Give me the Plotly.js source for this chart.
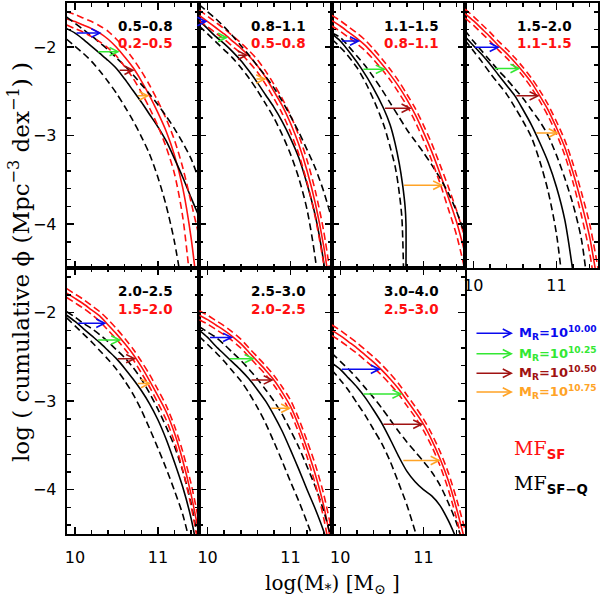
<!DOCTYPE html>
<html>
<head>
<meta charset="utf-8">
<script src="https://cdn.plot.ly/plotly-3.0.1.min.js"></script>
<style>body{margin:0;background:#fff}</style>
</head>
<body>
<div id="mf_chart" style="width:600px;height:600px"></div>
<script>
// log stellar mass grid the curves were read at
var log_mass = [9.9, 10.0, 10.1, 10.2, 10.3, 10.4, 10.5, 10.6, 10.7, 10.8, 10.9, 11.0, 11.1, 11.2, 11.3, 11.4, 11.5]

// redshift bins, black = SF-Q, red = SF
var z_sfq = ['0.5–0.8', '0.8–1.1', '1.1–1.5', '1.5–2.0', '2.0–2.5', '2.5–3.0', '3.0–4.0']
var z_sf = ['0.2–0.5', '0.5–0.8', '0.8–1.1', '1.1–1.5', '1.5–2.0', '2.0–2.5', '2.5–3.0']

// panel 1
var sfq_mid_1 = [-1.79,-1.84,-1.91,-1.99,-2.07,-2.15,-2.24,-2.36,-2.49,-2.62,-2.76,-2.90,-3.06,-3.26,-3.47,-3.70,-3.92]
var sfq_hi_1 = [-1.66,-1.73,-1.80,-1.87,-1.95,-2.03,-2.12,-2.21,-2.31,-2.42,-2.53,-2.65,-2.78,-2.92,-3.08,-3.26,-3.51]
var sfq_lo_1 = [-1.91,-1.99,-2.07,-2.16,-2.27,-2.39,-2.52,-2.67,-2.83,-3.01,-3.21,-3.47,-3.79,-4.20,-4.75]
var sf_mid_1 = [-1.68,-1.71,-1.75,-1.79,-1.84,-1.91,-2.00,-2.11,-2.23,-2.38,-2.55,-2.74,-2.95,-3.22,-3.59,-4.15,-4.95]
var sf_hi_1 = [-1.60,-1.63,-1.67,-1.71,-1.76,-1.82,-1.91,-2.01,-2.13,-2.27,-2.43,-2.61,-2.81,-3.05,-3.36,-3.75,-4.15]
var sf_lo_1 = [-1.75,-1.79,-1.83,-1.88,-1.94,-2.01,-2.10,-2.22,-2.35,-2.51,-2.69,-2.89,-3.13,-3.43,-3.92,-4.75]

// panel 2
var sfq_mid_2 = [-1.70,-1.79,-1.88,-1.96,-2.05,-2.15,-2.27,-2.40,-2.54,-2.68,-2.84,-3.03,-3.25,-3.55,-3.91,-4.43,-5.2]
var sfq_hi_2 = [-1.52,-1.60,-1.68,-1.77,-1.87,-1.98,-2.09,-2.21,-2.33,-2.46,-2.61,-2.78,-2.96,-3.16,-3.37,-3.63,-3.95]
var sfq_lo_2 = [-1.76,-1.85,-1.94,-2.03,-2.12,-2.23,-2.35,-2.49,-2.64,-2.80,-2.99,-3.21,-3.48,-3.84,-4.40,-5.3]
var sf_mid_2 = [-1.64,-1.71,-1.78,-1.85,-1.93,-2.01,-2.10,-2.21,-2.34,-2.50,-2.66,-2.86,-3.10,-3.40,-3.77,-4.25,-4.9]
var sf_hi_2 = [-1.58,-1.65,-1.72,-1.79,-1.87,-1.95,-2.04,-2.14,-2.27,-2.42,-2.58,-2.77,-3.00,-3.28,-3.63,-4.08,-4.7]
var sf_lo_2 = [-1.70,-1.77,-1.84,-1.91,-1.99,-2.07,-2.17,-2.28,-2.42,-2.58,-2.75,-2.96,-3.21,-3.53,-3.93,-4.45,-5.1]

// panel 3 (the SF-Q central and low curves drop almost vertically, so own masses)
var sfq_mid_3_mass = [9.9, 10.0, 10.13, 10.26, 10.39, 10.52, 10.6, 10.66, 10.71, 10.75, 10.78, 10.79, 10.79]
var sfq_mid_3 = [-1.85,-1.93,-2.08,-2.25,-2.45,-2.69,-2.88,-3.09,-3.32,-3.56,-3.81,-4.0,-4.5]
var sfq_lo_3_mass = [9.9, 10.05, 10.2, 10.32, 10.44, 10.53, 10.6, 10.66, 10.7, 10.74, 10.76]
var sfq_lo_3 = [-1.91,-2.05,-2.23,-2.43,-2.68,-2.90,-3.13,-3.35,-3.58,-3.92,-4.5]
var sfq_hi_3 = [-1.84,-1.89,-1.99,-2.10,-2.21,-2.34,-2.48,-2.63,-2.78,-2.93,-3.06,-3.19,-3.33,-3.48,-3.65,-3.86,-4.12]
var sf_mid_3 = [-1.70,-1.76,-1.83,-1.90,-1.98,-2.08,-2.19,-2.31,-2.44,-2.59,-2.76,-2.96,-3.18,-3.43,-3.70,-3.98,-4.33]
var sf_hi_3 = [-1.64,-1.70,-1.77,-1.84,-1.92,-2.02,-2.13,-2.25,-2.38,-2.53,-2.69,-2.88,-3.09,-3.33,-3.58,-3.85,-4.16]
var sf_lo_3 = [-1.76,-1.82,-1.89,-1.96,-2.04,-2.14,-2.25,-2.37,-2.51,-2.66,-2.84,-3.05,-3.28,-3.54,-3.83,-4.13,-4.52]

// panel 4
var sfq_mid_4 = [-1.88,-1.98,-2.08,-2.19,-2.31,-2.43,-2.55,-2.71,-2.88,-3.08,-3.30,-3.58,-3.95,-4.55]
var sfq_hi_4 = [-1.81,-1.93,-2.04,-2.15,-2.26,-2.36,-2.47,-2.58,-2.71,-2.84,-3.00,-3.22,-3.48,-3.78,-4.17,-4.9]
var sfq_lo_4 = [-1.92,-2.04,-2.16,-2.29,-2.41,-2.53,-2.68,-2.84,-3.02,-3.29,-3.63,-4.11,-4.9]
var sf_mid_4 = [-1.62,-1.70,-1.79,-1.88,-1.98,-2.07,-2.17,-2.28,-2.40,-2.55,-2.71,-2.91,-3.13,-3.42,-3.76,-4.15,-4.70]
var sf_hi_4 = [-1.57,-1.65,-1.74,-1.83,-1.93,-2.02,-2.12,-2.23,-2.35,-2.49,-2.65,-2.84,-3.05,-3.32,-3.64,-4.00,-4.50]
var sf_lo_4 = [-1.67,-1.75,-1.84,-1.93,-2.03,-2.12,-2.22,-2.33,-2.46,-2.61,-2.78,-2.98,-3.22,-3.53,-3.90,-4.33,-4.95]

// panel 5
var sfq_mid_5 = [-2.03,-2.10,-2.18,-2.26,-2.34,-2.43,-2.52,-2.63,-2.75,-2.88,-3.03,-3.21,-3.43,-3.69,-3.97,-4.32,-4.80]
var sfq_hi_5 = [-1.99,-2.05,-2.12,-2.18,-2.25,-2.33,-2.42,-2.51,-2.62,-2.75,-2.91,-3.09,-3.29,-3.51,-3.79,-4.15,-4.65]
var sfq_lo_5 = [-2.06,-2.15,-2.24,-2.33,-2.43,-2.53,-2.64,-2.77,-2.92,-3.10,-3.31,-3.53,-3.76,-4.01,-4.28,-4.65]
var sf_mid_5 = [-1.78,-1.84,-1.90,-1.97,-2.04,-2.14,-2.24,-2.35,-2.47,-2.61,-2.77,-2.94,-3.12,-3.36,-3.67,-4.05,-4.52]
var sf_hi_5 = [-1.73,-1.79,-1.85,-1.92,-1.99,-2.08,-2.18,-2.29,-2.41,-2.55,-2.70,-2.87,-3.05,-3.28,-3.57,-3.93,-4.38]
var sf_lo_5 = [-1.83,-1.89,-1.95,-2.02,-2.10,-2.20,-2.30,-2.41,-2.53,-2.68,-2.84,-3.02,-3.21,-3.46,-3.78,-4.18,-4.68]

// panel 6
var sfq_mid_6 = [-2.20,-2.28,-2.38,-2.47,-2.56,-2.65,-2.75,-2.87,-3.00,-3.16,-3.34,-3.55,-3.77,-4.00,-4.22,-4.47,-4.8]
var sfq_hi_6 = [-2.16,-2.22,-2.28,-2.36,-2.45,-2.54,-2.64,-2.75,-2.87,-3.00,-3.15,-3.33,-3.52,-3.74,-3.97,-4.24,-4.58]
var sfq_lo_6 = [-2.27,-2.36,-2.45,-2.55,-2.66,-2.77,-2.91,-3.07,-3.25,-3.46,-3.68,-3.91,-4.13,-4.37,-4.62]
var sf_mid_6 = [-2.03,-2.08,-2.14,-2.20,-2.27,-2.35,-2.45,-2.55,-2.65,-2.76,-2.90,-3.06,-3.28,-3.54,-3.83,-4.18,-4.65]
var sf_hi_6 = [-1.98,-2.03,-2.09,-2.15,-2.22,-2.30,-2.40,-2.50,-2.60,-2.71,-2.84,-2.99,-3.20,-3.45,-3.72,-4.05,-4.48]
var sf_lo_6 = [-2.08,-2.13,-2.19,-2.25,-2.32,-2.40,-2.50,-2.60,-2.70,-2.82,-2.96,-3.13,-3.36,-3.63,-3.94,-4.32,-4.82]

// panel 7
var sfq_mid_7 = [-2.57,-2.64,-2.74,-2.84,-2.96,-3.10,-3.25,-3.43,-3.62,-3.79,-3.91,-4.00,-4.07,-4.18,-4.35,-4.56]
var sfq_hi_7 = [-2.46,-2.55,-2.64,-2.74,-2.85,-2.96,-3.08,-3.21,-3.34,-3.46,-3.57,-3.68,-3.80,-3.95,-4.15,-4.38,-4.7]
var sfq_lo_7 = [-2.65,-2.76,-2.88,-3.02,-3.16,-3.32,-3.48,-3.68,-3.92,-4.17,-4.47,-4.8]
var sf_mid_7 = [-2.20,-2.26,-2.33,-2.40,-2.48,-2.56,-2.65,-2.75,-2.86,-2.99,-3.12,-3.26,-3.44,-3.65,-3.90,-4.22,-4.58]
var sf_hi_7 = [-2.14,-2.20,-2.27,-2.34,-2.42,-2.50,-2.59,-2.69,-2.80,-2.93,-3.06,-3.20,-3.37,-3.57,-3.81,-4.11,-4.45]
var sf_lo_7 = [-2.26,-2.32,-2.39,-2.46,-2.54,-2.62,-2.71,-2.81,-2.92,-3.05,-3.18,-3.33,-3.51,-3.73,-4.00,-4.33,-4.72]

// arrows, one row per panel, columns M_R = 10.00, 10.25, 10.50, 10.75
var mr_labels = ['10.00', '10.25', '10.50', '10.75']
var arrow_phi = [
    [-1.84,-2.05,-2.26,-2.55],
    [-1.71,-1.89,-2.09,-2.36],
    [-1.93,-2.25,-2.69,-3.56],
    [-2.00,-2.24,-2.55,-2.97],
    [-2.12,-2.31,-2.52,-2.80],
    [-2.28,-2.52,-2.76,-3.08],
    [-2.64,-2.92,-3.26,-3.67]]
var arrow_from = [
    [10.00,10.26,10.52,10.74],
    [9.90,10.11,10.35,10.57],
    [10.00,10.26,10.52,10.75],
    [10.00,10.24,10.50,10.74],
    [10.02,10.26,10.50,10.74],
    [10.01,10.25,10.51,10.75],
    [10.00,10.26,10.50,10.74]]
var arrow_to = [
    [10.32,10.54,10.72,10.90],
    [10.00,10.25,10.49,10.71],
    [10.24,10.55,10.86,11.24],
    [10.32,10.57,10.80,11.03],
    [10.38,10.56,10.74,10.92],
    [10.31,10.57,10.80,11.01],
    [10.49,10.75,11.00,11.21]]

var panels = [
    {sfq: [sfq_mid_1, sfq_hi_1, sfq_lo_1], sf: [sf_mid_1, sf_hi_1, sf_lo_1]},
    {sfq: [sfq_mid_2, sfq_hi_2, sfq_lo_2], sf: [sf_mid_2, sf_hi_2, sf_lo_2]},
    {sfq: [sfq_mid_3, sfq_hi_3, sfq_lo_3], sf: [sf_mid_3, sf_hi_3, sf_lo_3],
     sfq_mass: [sfq_mid_3_mass, log_mass, sfq_lo_3_mass]},
    {sfq: [sfq_mid_4, sfq_hi_4, sfq_lo_4], sf: [sf_mid_4, sf_hi_4, sf_lo_4]},
    {sfq: [sfq_mid_5, sfq_hi_5, sfq_lo_5], sf: [sf_mid_5, sf_hi_5, sf_lo_5]},
    {sfq: [sfq_mid_6, sfq_hi_6, sfq_lo_6], sf: [sf_mid_6, sf_hi_6, sf_lo_6]},
    {sfq: [sfq_mid_7, sfq_hi_7, sfq_lo_7], sf: [sf_mid_7, sf_hi_7, sf_lo_7]},
]

var arrow_colors = ['#0a0aee', '#33e833', '#a01212', '#ffa326']
var red = '#ff1010'

var cols = [[0.1112, 0.3322], [0.3322, 0.5533], [0.5533, 0.7750], [0.7750, 0.9967]]
var rows = [[0.5528, 0.995], [0.11, 0.5528]]

function suffix(n) {
    return n == 1 ? '' : String(n)
}

var data = [], annotations = []
var layout = {
    width: 600,
    height: 600,
    margin: {l: 0, r: 0, t: 0, b: 0},
    paper_bgcolor: 'white',
    plot_bgcolor: 'white',
    showlegend: false,
}

for (var p = 0; p < panels.length; p++) {
    var n = p + 1, s = suffix(n)
    var col = p < 4 ? p : p - 4
    var row = p < 4 ? 0 : 1
    var dashes = ['solid', '7px,4px', '7px,4px']

    for (var k = 0; k < 3; k++) {
        data.push({
            x: log_mass, y: panels[p].sf[k], xaxis: 'x' + s, yaxis: 'y' + s,
            mode: 'lines', hoverinfo: 'skip',
            line: {color: red, width: 1.6, dash: dashes[k], shape: 'spline', smoothing: 0.8},
        })
        var sfq_x = panels[p].sfq_mass ? panels[p].sfq_mass[k] : log_mass
        data.push({
            x: sfq_x, y: panels[p].sfq[k], xaxis: 'x' + s, yaxis: 'y' + s,
            mode: 'lines', hoverinfo: 'skip',
            line: {color: 'black', width: 1.6, dash: dashes[k], shape: 'spline', smoothing: 0.8},
        })
    }

    var tick_font = {family: 'DejaVu Sans', size: 16, color: 'black'}
    layout['xaxis' + s] = {
        domain: cols[col], anchor: 'y' + s,
        range: [9.9, 11.5], tick0: 10, dtick: 1,
        ticks: 'inside', ticklen: 7, tickwidth: 1.5, tickcolor: 'black',
        minor: {tick0: 10, dtick: 0.2, ticks: 'inside', ticklen: 4, tickwidth: 1.5, tickcolor: 'black'},
        showline: true, linewidth: 2, linecolor: 'black', mirror: 'ticks',
        showgrid: false, zeroline: false,
        showticklabels: (row == 1 || col == 3),
        ticklabelstandoff: row == 1 ? 8 : 1,
        tickfont: tick_font, fixedrange: true,
    }
    layout['yaxis' + s] = {
        domain: rows[row], anchor: 'x' + s,
        range: [-4.5, -1.5], tick0: -2, dtick: 1,
        ticks: 'inside', ticklen: 7, tickwidth: 1.5, tickcolor: 'black',
        minor: {tick0: -2, dtick: 0.2, ticks: 'inside', ticklen: 4, tickwidth: 1.5, tickcolor: 'black'},
        showline: true, linewidth: 2, linecolor: 'black', mirror: 'ticks',
        showgrid: false, zeroline: false,
        showticklabels: col == 0,
        ticklabelstandoff: 5,
        tickfont: tick_font, fixedrange: true,
    }

    // redshift labels
    var z_font = {family: 'DejaVu Sans', size: 13.5, weight: 'bold'}
    annotations.push({
        xref: 'x' + s + ' domain', yref: 'y' + s + ' domain', x: 0.82, y: 0.915,
        xanchor: 'right', yanchor: 'middle', showarrow: false, text: z_sfq[p],
        font: Object.assign({color: 'black'}, z_font),
    })
    annotations.push({
        xref: 'x' + s + ' domain', yref: 'y' + s + ' domain', x: 0.82, y: 0.848,
        xanchor: 'right', yanchor: 'middle', showarrow: false, text: z_sf[p],
        font: Object.assign({color: red}, z_font),
    })

    // shift arrows SF-Q -> SF
    for (var a = 0; a < 4; a++) {
        annotations.push({
            xref: 'x' + s, yref: 'y' + s, axref: 'x' + s, ayref: 'y' + s,
            x: arrow_to[p][a], y: arrow_phi[p][a],
            ax: arrow_from[p][a], ay: arrow_phi[p][a],
            text: '', showarrow: true, arrowhead: 5, arrowsize: 1.1, arrowwidth: 1.5,
            arrowcolor: arrow_colors[a],
        })
    }
}

// legend in the empty bottom right slot
var legend_y = [333.3, 353.8, 373.3, 392]
for (var a = 0; a < 4; a++) {
    annotations.push({
        xref: 'paper', yref: 'paper', x: 513 / 600, y: 1 - legend_y[a] / 600,
        ax: -38, ay: 0, text: '', showarrow: true, arrowhead: 5, arrowsize: 1.1, arrowwidth: 1.5,
        arrowcolor: arrow_colors[a],
    })
    annotations.push({
        xref: 'paper', yref: 'paper', x: 517 / 600, y: 1 - legend_y[a] / 600,
        xanchor: 'left', yanchor: 'middle', showarrow: false,
        text: 'M<sub>R</sub>=10<sup>' + mr_labels[a] + '</sup>',
        font: {family: 'DejaVu Sans', size: 13, weight: 'bold', color: arrow_colors[a]},
    })
}

var sub_style = '<span style="font-family:DejaVu Sans;font-weight:bold">'
annotations.push({
    xref: 'paper', yref: 'paper', x: 512 / 600, y: 1 - 449 / 600,
    xanchor: 'left', yanchor: 'middle', showarrow: false,
    text: 'MF<sub>' + sub_style + 'SF</span></sub>',
    font: {family: 'DejaVu Serif', size: 19, color: red},
})
annotations.push({
    xref: 'paper', yref: 'paper', x: 512 / 600, y: 1 - 484 / 600,
    xanchor: 'left', yanchor: 'middle', showarrow: false,
    text: 'MF<sub>' + sub_style + 'SF−Q</span></sub>',
    font: {family: 'DejaVu Serif', size: 19, color: 'black'},
})

// axis titles
annotations.push({
    xref: 'paper', yref: 'paper', x: 19 / 600, y: 1 - 262 / 600,
    xanchor: 'center', yanchor: 'middle', showarrow: false, textangle: -90,
    text: 'log ( cumulative ϕ (Mpc<sup>−3</sup> dex<sup>−1</sup>) )',
    font: {family: 'DejaVu Serif', size: 23, color: 'black'},
})
annotations.push({
    xref: 'paper', yref: 'paper', x: 332 / 600, y: 1 - 584 / 600,
    xanchor: 'center', yanchor: 'middle', showarrow: false,
    text: 'log(M<sub>*</sub>) [M<sub>⊙</sub> ]',
    font: {family: 'DejaVu Serif', size: 20, color: 'black'},
})

layout.annotations = annotations
Plotly.newPlot('mf_chart', data, layout, {displayModeBar: false, staticPlot: true});
</script>
</body>
</html>
